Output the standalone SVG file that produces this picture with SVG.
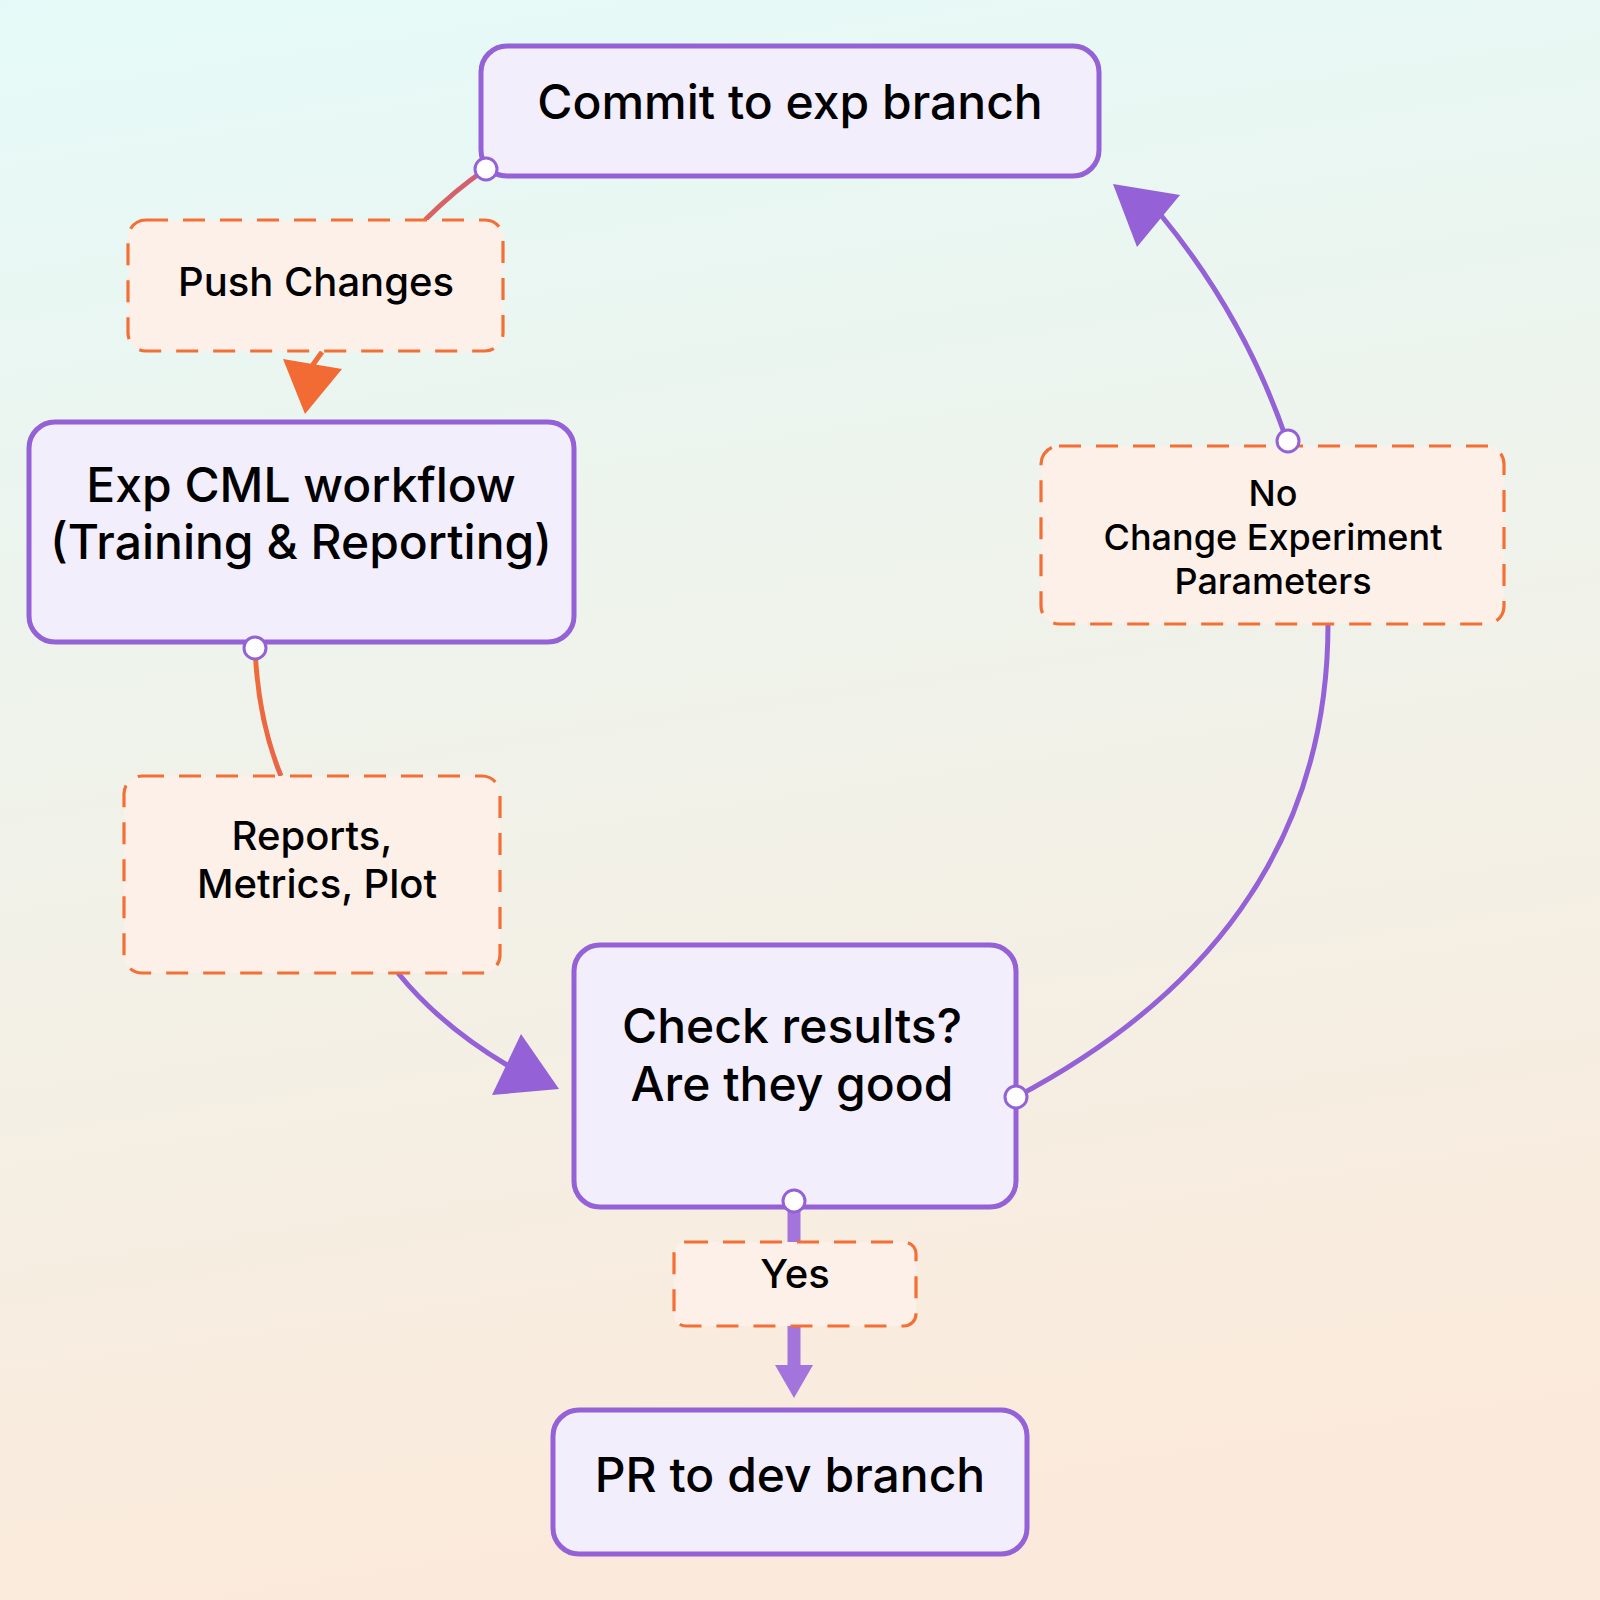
<svg xmlns="http://www.w3.org/2000/svg" width="1600" height="1600" viewBox="0 0 1600 1600">
<defs>
<linearGradient id="bg" x1="0" y1="0" x2="0.15" y2="1">
<stop offset="0" stop-color="#e5faf8"/>
<stop offset="1" stop-color="#fbeadb"/>
</linearGradient>
<linearGradient id="g1" gradientUnits="userSpaceOnUse" x1="486" y1="169" x2="305" y2="414">
<stop offset="0" stop-color="#cf5e78"/>
<stop offset="0.6" stop-color="#f06a3c"/>
<stop offset="1" stop-color="#f26b35"/>
</linearGradient>
<linearGradient id="g2" gradientUnits="userSpaceOnUse" x1="255" y1="648" x2="281" y2="776">
<stop offset="0" stop-color="#f26b35"/>
<stop offset="1" stop-color="#e8654a"/>
</linearGradient>
<style>
.node rect{fill:#f2eefc;stroke:#9461d6;stroke-width:5}
.lbl rect{fill:#fdf0e8;stroke:#f36f35;stroke-width:3.2;stroke-dasharray:22 15}
.nt{font-family:Inter,"Noto Sans","Liberation Sans",sans-serif;font-size:48px;font-weight:500;fill:#000;text-anchor:middle}
.lt{font-family:Inter,"Noto Sans","Liberation Sans",sans-serif;font-size:40px;font-weight:500;fill:#000;text-anchor:middle}
.lt2{font-size:36px}
.dot{fill:#fff;stroke:#9461d6;stroke-width:3}
.edge{fill:none;stroke-width:5}
</style>
</defs>
<rect width="1600" height="1600" fill="url(#bg)"/>

<g id="connectors">
<path class="edge" d="M486,169 Q455,190 425,220" stroke="url(#g1)"/>
<path class="edge" d="M322,352 L312,366" stroke="#f26b35"/>
<polygon points="305,414 283,359 342,369" fill="#f26b35"/>

<path class="edge" d="M255,648 Q258,720 281,776" stroke="url(#g2)"/>
<path class="edge" d="M398,973 Q440,1025 507,1065" stroke="#9461d6"/>
<polygon points="559,1089 521,1034 492,1095" fill="#9461d6"/>

<path class="edge" d="M1016,1097 C1200,1000 1328,850 1328,624" stroke="#9461d6"/>
<path class="edge" d="M1287,441 Q1245,317 1160,214" stroke="#9461d6"/>
<polygon points="1113,184 1180,195 1137,247" fill="#9461d6"/>

<path fill="none" stroke="#a374db" stroke-width="13" d="M794,1201 L794,1242 M794,1326 L794,1366"/>
<polygon points="775,1365 813,1365 794,1398" fill="#a374db"/>
</g>

<g id="commit" class="node">
<rect x="481" y="46" width="618" height="130" rx="26"/>
<text class="nt" x="790" y="119">Commit to exp branch</text>
</g>
<g id="expcml" class="node">
<rect x="29" y="422" width="545" height="220" rx="26"/>
<text class="nt" x="301" y="502">Exp CML workflow</text>
<text class="nt" x="301" y="559">(Training &amp; Reporting)</text>
</g>
<g id="check" class="node">
<rect x="574" y="945" width="442" height="262" rx="26"/>
<text class="nt" x="792" y="1043">Check results?</text>
<text class="nt" x="792" y="1101">Are they good</text>
</g>
<g id="pr" class="node">
<rect x="553" y="1410" width="474" height="144" rx="26"/>
<text class="nt" x="790" y="1492">PR to dev branch</text>
</g>

<g id="lbl-push" class="lbl">
<rect x="128" y="220" width="375" height="131" rx="18"/>
<text class="lt" x="316" y="296">Push Changes</text>
</g>
<g id="lbl-reports" class="lbl">
<rect x="124" y="776" width="376" height="197" rx="18"/>
<text class="lt" x="312" y="850">Reports,</text>
<text class="lt" x="317" y="898">Metrics, Plot</text>
</g>
<g id="lbl-no" class="lbl">
<rect x="1041" y="446" width="463" height="178" rx="18"/>
<text class="lt lt2" x="1273" y="506">No</text>
<text class="lt lt2" x="1273" y="550">Change Experiment</text>
<text class="lt lt2" x="1273" y="594">Parameters</text>
</g>
<g id="lbl-yes" class="lbl">
<rect x="674" y="1242" width="242" height="84" rx="12"/>
<text class="lt" x="795" y="1288">Yes</text>
</g>

<g id="dots">
<circle class="dot" cx="486" cy="169" r="11"/>
<circle class="dot" cx="255" cy="648" r="11"/>
<circle class="dot" cx="1016" cy="1097" r="11"/>
<circle class="dot" cx="1288" cy="441" r="11"/>
<circle class="dot" cx="794" cy="1201" r="11"/>
</g>
</svg>
